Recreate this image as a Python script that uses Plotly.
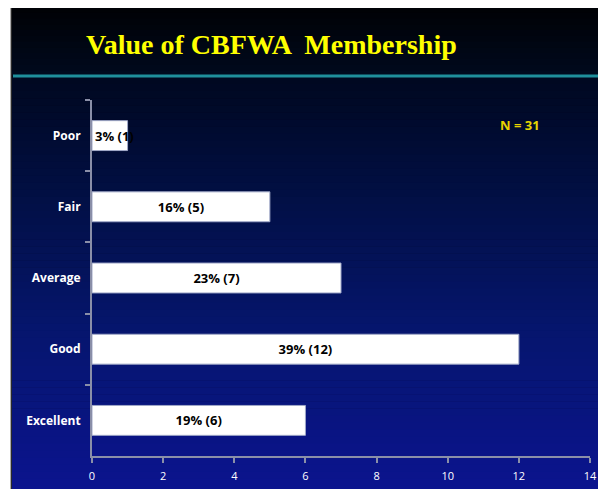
import plotly.graph_objects as go

categories = ["Poor", "Fair", "Average", "Good", "Excellent"]
counts = [1, 5, 7, 12, 6]
percents = [3, 16, 23, 39, 19]
x_ticks = [0, 2, 4, 6, 8, 10, 12, 14]

labels = [f"{p}% ({c})" for p, c in zip(percents, counts)]

W, H = 606, 489
OFF = 8  # page body margin
L, R, T, B = 84, 24, 92, 41
pw, ph = W - L - R, H - T - B

def px(sx):
    return (sx - OFF - L) / pw

def py(sy):
    return (H - B - (sy - OFF)) / ph

fig = go.Figure()
bar_style = dict(
    orientation="h",
    marker=dict(color="white", line=dict(color="#a0a8c8", width=1)),
    textposition="inside", constraintext="none",
    textfont=dict(family="Open Sans", size=13, color="black", weight="bold"),
    width=0.42, cliponaxis=False,
)
# narrow first bar: label starts at bar start (overflows to the right)
fig.add_trace(go.Bar(y=categories[:1], x=counts[:1], text=labels[:1],
                     insidetextanchor="start", **bar_style))
fig.add_trace(go.Bar(y=categories[1:], x=counts[1:], text=labels[1:],
                     insidetextanchor="middle", **bar_style))

shapes = []
shapes.append(dict(type="rect", xref="paper", yref="paper", layer="below",
                   x0=px(11), x1=px(604), y0=py(7), y1=py(500),
                   fillcolor="#000000", line=dict(color="#555555", width=1)))
n = 12
for i in range(n):
    y0 = 7 + (76 - 7) * i / n
    y1 = 7 + (76 - 7) * (i + 1) / n
    t = i / (n - 1)
    c = (0, int(2 + 8 * t), int(6 + 24 * t))
    shapes.append(dict(type="rect", xref="paper", yref="paper", layer="below",
                       x0=px(12), x1=px(604), y0=py(y0), y1=py(y1 + 0.5),
                       fillcolor=f"rgb{c}", line=dict(width=0)))
stops = [(77, (0, 8, 32)), (200, (2, 16, 70)), (330, (6, 22, 110)), (500, (12, 20, 145))]
n = 60
for i in range(n):
    y0 = 77 + (500 - 77) * i / n
    y1 = 77 + (500 - 77) * (i + 1) / n
    ym = (y0 + y1) / 2
    for (a, ca), (b, cb) in zip(stops[:-1], stops[1:]):
        if a <= ym <= b:
            t = (ym - a) / (b - a)
            c = tuple(int(ca[k] + (cb[k] - ca[k]) * t) for k in range(3))
            break
    shapes.append(dict(type="rect", xref="paper", yref="paper", layer="below",
                       x0=px(12), x1=px(604), y0=py(y0), y1=py(y1 + 0.5),
                       fillcolor=f"rgb{c}", line=dict(width=0)))
shapes.append(dict(type="line", xref="paper", yref="paper", layer="below",
                   x0=px(13), x1=px(604), y0=py(76), y1=py(76),
                   line=dict(color="#1f8f9c", width=3)))

fig.update_layout(
    width=W, height=H,
    margin=dict(l=L, r=R, t=T, b=B, pad=0),
    paper_bgcolor="white", plot_bgcolor="rgba(0,0,0,0)",
    shapes=shapes,
    showlegend=False,
    barmode="overlay",
    bargap=0.58,
    annotations=[
        dict(text="<b>Value of CBFWA  Membership</b>", xref="paper", yref="paper",
             x=px(271), y=py(45), xanchor="center", yanchor="middle", showarrow=False,
             font=dict(family="Liberation Serif", size=28, color="#ffff00")),
        dict(text="<b>N = 31</b>", xref="paper", yref="paper",
             x=px(520), y=py(125), xanchor="center", yanchor="middle", showarrow=False,
             font=dict(family="Open Sans", size=13, color="#e8d400")),
    ],
    xaxis=dict(range=[0, 14], tickvals=x_ticks, showgrid=False, zeroline=False,
               showline=True, linecolor="#8a8fa8", linewidth=2,
               ticks="outside", ticklen=5, tickcolor="#8a8fa8", tickwidth=2,
               ticklabelstandoff=4,
               tickfont=dict(family="Open Sans", size=11, color="white")),
    yaxis=dict(categoryorder="array", categoryarray=categories, autorange="reversed",
               showgrid=False, zeroline=False, showline=True, linecolor="#8a8fa8", linewidth=2,
               ticks="outside", ticklen=5, tickcolor="#8a8fa8", tickwidth=2,
               tickson="boundaries", ticklabelstandoff=7,
               tickfont=dict(family="Open Sans", size=12, color="white", weight="bold")),
)

fig.write_html("out.html")
